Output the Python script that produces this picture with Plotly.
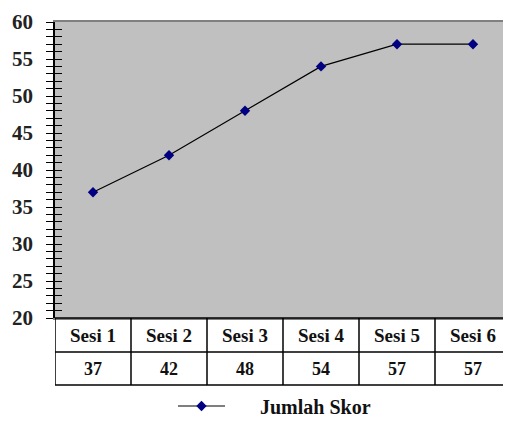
import plotly.graph_objects as go

categories = ["Sesi 1", "Sesi 2", "Sesi 3", "Sesi 4", "Sesi 5", "Sesi 6"]
values = [37, 42, 48, 54, 57, 57]
series_name = "Jumlah Skor"
y_ticks = [20, 25, 30, 35, 40, 45, 50, 55, 60]

# page body has an 8px margin, so the figure starts at (8, 8) in the window
W, H = 503, 409
L, T = 47, 14
PW, PH = 456, 296
R = W - L - PW
B = H - T - PH
row1 = 34 / PH
row2 = 67 / PH

FONT = "Liberation Serif, Times New Roman, serif"
xs = list(range(len(categories)))

fig = go.Figure()
fig.add_trace(go.Scatter(
    x=xs, y=values, mode="lines+markers",
    name="&nbsp;" * 6 + f"<b>{series_name}</b>",
    line=dict(color="black", width=1.2),
    marker=dict(symbol="diamond", size=8, color="#000080"),
))
fig.add_trace(go.Scatter(
    x=xs, y=values, yaxis="y2", mode="markers", showlegend=False,
    marker=dict(opacity=0), hoverinfo="skip",
))

shapes = []
for yy in [0, -row1, -row2]:
    shapes.append(dict(type="line", xref="x", yref="paper", x0=-0.5, x1=len(categories) - 0.5,
                       y0=yy, y1=yy, line=dict(color="black", width=1.5)))
for i in range(len(categories) + 1):
    shapes.append(dict(type="line", xref="x", yref="paper", x0=i - 0.5, x1=i - 0.5,
                       y0=0, y1=-row2, line=dict(color="black", width=1.5)))

annotations = []
for i, (c, v) in enumerate(zip(categories, values)):
    annotations.append(dict(x=i, y=-row1 / 2, xref="x", yref="paper", text=f"<b>{c}</b>",
                            yanchor="middle", showarrow=False,
                            font=dict(family=FONT, size=19, color="#111")))
    annotations.append(dict(x=i, y=-(row1 + row2) / 2, xref="x", yref="paper", text=f"<b>{v}</b>",
                            yanchor="middle", showarrow=False,
                            font=dict(family=FONT, size=18, color="#111")))

fig.update_layout(
    width=W, height=H,
    margin=dict(l=L, r=R, t=T, b=B, autoexpand=False),
    paper_bgcolor="white", plot_bgcolor="#C0C0C0",
    xaxis=dict(range=[-0.5, len(categories) - 0.5], showticklabels=False, ticks="",
               showgrid=False, zeroline=False, showline=True, linecolor="#808080",
               linewidth=1.5, mirror=True, automargin=False),
    yaxis=dict(range=[20, 60], tickvals=y_ticks, ticktext=[f"<b>{t}</b>" for t in y_ticks],
               ticks="outside", ticklen=7, tickwidth=1,
               tickcolor="black", showgrid=False, zeroline=False, showline=True,
               linecolor="black", linewidth=1.5, automargin=False,
               minor=dict(dtick=1, ticks="outside", ticklen=7, tickwidth=1, tickcolor="black"),
               tickfont=dict(family=FONT, size=21, color="#222"), ticklabelstandoff=9),
    yaxis2=dict(range=[20, 60], overlaying="y", side="left", tickvals=y_ticks, ticks="inside",
                ticklen=7, tickwidth=1, tickcolor="black", showticklabels=False, showgrid=False,
                zeroline=False, showline=False, automargin=False,
                minor=dict(dtick=1, ticks="inside", ticklen=7, tickwidth=1, tickcolor="black")),
    showlegend=True,
    legend=dict(x=(173 - 55) / PW, y=-(406 - 318) / PH, xanchor="left", yanchor="middle",
                orientation="h", font=dict(family=FONT, size=20, color="#111"), itemwidth=47,
                bgcolor="rgba(0,0,0,0)"),
    shapes=shapes, annotations=annotations,
)

fig.write_html("out.html")
